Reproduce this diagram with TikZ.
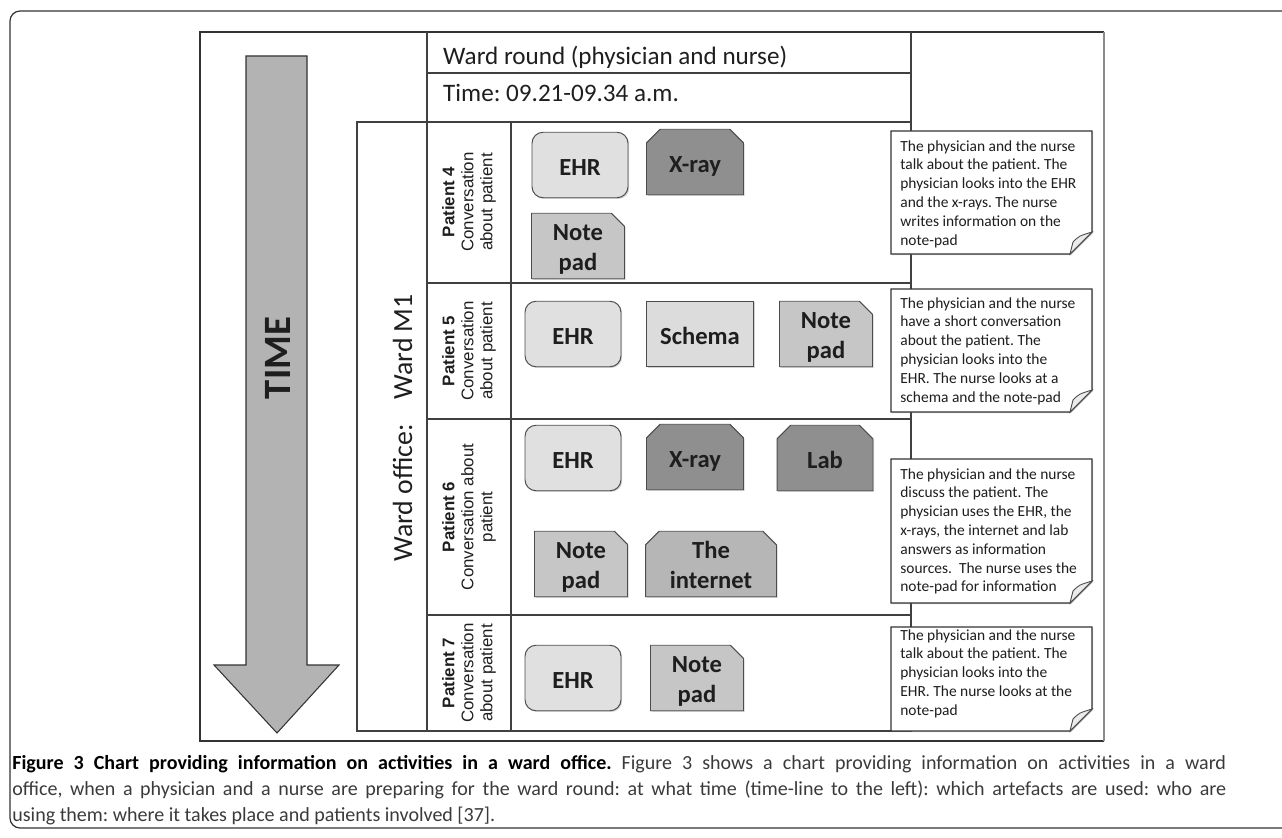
\documentclass[tikz,border=0pt]{standalone}
\usepackage{fontspec}
\setmainfont{Carlito}
\newfontfamily\arialfont{Liberation Sans}
\usetikzlibrary{shapes.misc,shadows}
\frenchspacing

\definecolor{ehrfill}{HTML}{E0E0E0}
\definecolor{schemafill}{HTML}{DCDCDC}
\definecolor{padfill}{HTML}{C6C6C6}
\definecolor{netfill}{HTML}{B6B6B6}
\definecolor{xrayfill}{HTML}{8F8F8F}
\definecolor{timefill}{HTML}{B3B3B3}
\definecolor{inkgray}{HTML}{1E1E1E}
\definecolor{capgray}{HTML}{3A3A3A}

\tikzset{
  gridline/.style={draw=black!75, line width=0.6pt},
  artshadow/.style={drop shadow={shadow xshift=0.7pt, shadow yshift=-0.7pt, opacity=0.35}},
  artefact/.style={draw=black!70, line width=0.55pt, minimum height=1.31cm, inner sep=0pt,
    text height=11.5pt, text depth=0pt, text=inkgray, font=\fontsize{14}{17}\selectfont\bfseries, artshadow},
  ehrbox/.style={artefact, fill=ehrfill, rounded corners=0.22cm, minimum width=1.92cm},
  schemabox/.style={artefact, fill=schemafill, minimum width=2.14cm},
  padbox/.style={artefact, fill=padfill, chamfered rectangle, chamfered rectangle corners=north east,
    chamfered rectangle xsep=0.15cm, minimum width=1.86cm},
  scanbox/.style={artefact, fill=#1, chamfered rectangle, chamfered rectangle corners={north west,north east},
    chamfered rectangle xsep=0.16cm, minimum width=1.94cm},
  patientlabel/.style={rotate=90, align=center, inner sep=0pt, text=inkgray,
    font=\arialfont\fontsize{9.6}{10.8}\selectfont},
  notetext/.style={anchor=north west, align=left, inner sep=0pt, text=inkgray,
    font=\fontsize{8.8}{10.7}\selectfont},
  notepaper/.style={draw=black!80, line width=0.6pt, fill=white, artshadow},
  notefold/.style={draw=black!70, line width=0.5pt, fill=black!8}
}

% two centred lines inside an artefact box
\newcommand{\twolines}[2]{\begin{tabular}{@{}c@{}}#1\\#2\end{tabular}}

% sheet with a turned-up corner: x1, y1, x2, y2
\newcommand{\notesheet}[4]{%
  \filldraw[notepaper] (#1,#2) -- (#3,#2) -- (#3,#4-22) -- (#3-22,#4) -- (#1,#4) -- cycle;
  \filldraw[notefold] (#3-22,#4) -- (#3-19,#4-12) .. controls (#3-13,#4-18) .. (#3,#4-22) -- cycle;
}

\begin{document}
\begin{tikzpicture}[x=0.02cm, y=-0.02cm]
    \useasboundingbox (0,0) rectangle (1282,838);
    \clip (0,0) rectangle (1282,838);
    % frame and chart border
    \draw[black!80, line width=0.7pt, rounded corners=0.2cm] (10,11) rectangle (1320,828);
    \draw[black!80, line width=0.7pt] (1104,32) -- (200,32) -- (200,741) -- (1104,741);
    \draw[black!45, line width=1.2pt] (1104,32) -- (1104,741);

    % time line
    \filldraw[fill=timefill, draw=black!80, line width=0.6pt] (246,56) -- (307,56) -- (307,665) -- (339,665)
        -- (277,733) -- (214,665) -- (246,665) -- cycle;
    \node[rotate=90, anchor=base, text=inkgray, font=\fontsize{22}{24}\selectfont\bfseries] (time) at (290,358) {TIME};

    % table
    \draw[gridline] (427,32) -- (427,731);
    \draw[gridline] (911,32) -- (911,731);
    \draw[gridline] (427,73) -- (911,73);
    \draw[gridline] (357,122) rectangle (911,731);
    \draw[gridline] (511,122) -- (511,731);
    \foreach \y in {283,419,615}
        \draw[gridline] (427,\y) -- (911,\y);

    \node[anchor=base west, text=inkgray, font=\fontsize{14.3}{17}\selectfont] (round) at (437,65) {Ward round (physician and nurse)};
    \node[anchor=base west, text=inkgray, font=\fontsize{14.3}{17}\selectfont] (clock) at (437,102) {Time: 09.21-09.34 a.m.};
    \node[rotate=90, anchor=base, text=inkgray, font=\fontsize{15.8}{18}\selectfont] (ward) at (412,428) {Ward office:\hspace{0.5cm}Ward M1};

    \node[patientlabel] (pat4) at (469,202) {\textbf{Patient 4}\\Conversation\\about patient};
    \node[patientlabel] (pat5) at (469,351) {\textbf{Patient 5}\\Conversation\\about patient};
    \node[patientlabel] (pat6) at (469,517) {\textbf{Patient 6}\\Conversation about\\patient};
    \node[patientlabel] (pat7) at (469,673) {\textbf{Patient 7}\\Conversation\\about patient};

    % artefacts
    \node[ehrbox] (ehr4) at (580,165) {EHR};
    \node[scanbox=xrayfill] (xray4) at (695,162) {X-ray};
    \node[padbox] (pad4) at (578,246) {\twolines{Note}{pad}};

    \node[ehrbox] (ehr5) at (573,334) {EHR};
    \node[schemabox] (schema5) at (700,334) {Schema};
    \node[padbox] (pad5) at (826,334) {\twolines{Note}{pad}};

    \node[ehrbox] (ehr6) at (573,458) {EHR};
    \node[scanbox=xrayfill] (xray6) at (695,457) {X-ray};
    \node[scanbox=xrayfill, minimum width=1.92cm] (lab6) at (825,458) {Lab};
    \node[padbox] (pad6) at (581,564) {\twolines{Note}{pad}};
    \node[scanbox=netfill, minimum width=2.62cm] (net6) at (711,564) {\twolines{The}{internet}};

    \node[ehrbox] (ehr7) at (573,678) {EHR};
    \node[padbox] (pad7) at (697,678) {\twolines{Note}{pad}};

    % notes
    \notesheet{891}{131}{1092}{254}
    \node[notetext] (note4) at (900,140) {The physician and the nurse\\talk about the patient. The\\physician looks into the EHR\\and the x-rays. The nurse\\writes information on the\\note-pad};
    \notesheet{891}{289}{1092}{412}
    \node[notetext] (note5) at (900,297) {The physician and the nurse\\have a short conversation\\about the patient. The\\physician looks into the\\EHR. The nurse looks at a\\schema and the note-pad};
    \notesheet{891}{459}{1092}{603}
    \node[notetext] (note6) at (900,468) {The physician and the nurse\\discuss the patient. The\\physician uses the EHR, the\\x-rays, the internet and lab\\answers as information\\sources.~ The nurse uses the\\note-pad for information};
    \notesheet{891}{627}{1092}{731}
    \node[notetext] (note7) at (900,629) {The physician and the nurse\\talk about the patient. The\\physician looks into the\\EHR. The nurse looks at the\\note-pad};

    % caption
    \node[anchor=north west, text width=24.28cm, align=justify, inner sep=0pt, text=capgray,
        font=\fontsize{11.4}{14.8}\selectfont] (caption) at (12,755)
        {\textbf{\color{black}Figure 3 Chart providing information on activities in a ward office.} Figure 3 shows a chart providing information on activities in a ward\linebreak
        office, when a physician and a nurse are preparing for the ward round: at what time (time-line to the left): which artefacts are used: who are\linebreak
        using them: where it takes place and patients involved [37].};
\end{tikzpicture}
\end{document}
